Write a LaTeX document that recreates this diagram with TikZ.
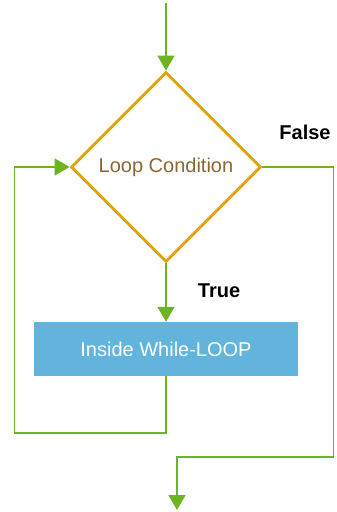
\documentclass[tikz,border=0pt]{standalone}
\usepackage{fontspec}
\setmainfont{Liberation Sans}
\usetikzlibrary{calc,shapes.geometric,arrows.meta}

\definecolor{flowgreen}{HTML}{6DB520}
\definecolor{condorange}{HTML}{E0A30C}
\definecolor{condbrown}{HTML}{8C6630}
\definecolor{bodyblue}{HTML}{62B4DC}

\tikzset{
    flowtext/.style={font=\fontsize{20}{22}\selectfont},
    link/.style={draw=flowgreen, line width=1.6pt},
    arrow/.style={link, -{Triangle[length=15pt,width=17pt]}}
}

\begin{document}
\begin{tikzpicture}[x=1pt, y=-1pt]
    \useasboundingbox (0,0) rectangle (337,512);

    \node[diamond, draw=condorange, line width=2.8pt, minimum size=190pt, inner sep=0pt, text=condbrown, flowtext] (cond) at (166,167) {Loop Condition};

    \node[rectangle, fill=bodyblue, minimum width=264pt, minimum height=54pt, text=white, flowtext] (body) at ($(cond) + (0,182)$) {Inside While-LOOP};

    \coordinate (start) at ($(cond) + (0,-164)$);
    \coordinate (stop) at ($(cond) + (11,343)$);

    \node[flowtext, font=\fontsize{20}{22}\bfseries] (false) at ($(cond) + (139,-35)$) {False};
    \node[flowtext, font=\fontsize{20}{22}\bfseries] (true) at ($(cond) + (53,124)$) {True};

    \draw[arrow] (start) -- (cond.north);
    \draw[arrow] (cond.south) -- (body.north);
    \draw[arrow] (body.south) -- ++(0,57) -| ([xshift=-55pt]cond.west) -- (cond.west);
    \draw[arrow] (cond.east) -- ++(71,0) |- ($(stop) + (0,-53)$) -- (stop);

\end{tikzpicture}
\end{document}
